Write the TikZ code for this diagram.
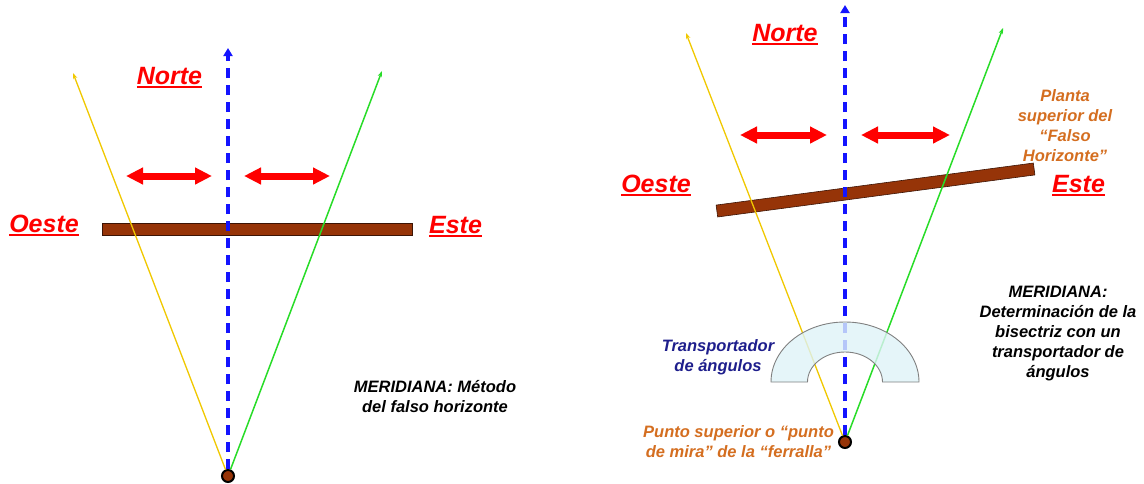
\documentclass[tikz,border=0pt]{standalone}
\usepackage{fontspec}
\setmainfont{Liberation Sans}
\usetikzlibrary{arrows.meta,calc}
\definecolor{barbrown}{RGB}{150,52,8}
\definecolor{baredge}{RGB}{60,20,5}
\definecolor{sightyellow}{RGB}{240,200,0}
\definecolor{sightgreen}{RGB}{40,220,40}
\definecolor{northblue}{RGB}{20,20,255}
\definecolor{navytext}{RGB}{30,30,140}
\definecolor{orangetext}{RGB}{212,110,32}
\definecolor{protfill}{RGB}{222,243,248}
\newcommand{\ulword}[1]{\setbox0\hbox{#1}\rlap{\raisebox{-4pt}{\rule{\wd0}{2pt}}}\box0}
\begin{document}
\begin{tikzpicture}[x=1pt,y=-1pt,
  bigred/.style={text=red, font=\fontsize{25}{30}\selectfont\bfseries\itshape, inner sep=0pt, anchor=base},
  note/.style={font=\fontsize{16.5}{20}\selectfont\bfseries\itshape, align=center, inner sep=0pt},
  yellowsight/.style={draw=sightyellow, line width=1.3pt, -{Stealth[length=6pt,width=4.5pt]}},
  greensight/.style={draw=sightgreen, line width=1.5pt, -{Stealth[length=6pt,width=4.5pt]}},
  northline/.style={draw=northblue, line width=3.4pt, dash pattern=on 10pt off 7pt, -{Triangle[length=8pt,width=9pt]}},
  redarrow/.style={draw=red, line width=7pt, {Triangle[length=17pt,width=16pt]}-{Triangle[length=17pt,width=16pt]}},
  dotnode/.style={circle, minimum size=12pt, inner sep=0pt, fill=barbrown, draw=black, line width=2pt},
  barnode/.style={fill=barbrown, draw=baredge, line width=0.6pt, inner sep=0pt, minimum height=12pt},
  protractor/.style={draw=gray, line width=0.9pt, fill=protfill, fill opacity=0.8}
]
\useasboundingbox (0,0) rectangle (1144,483);

% ---------------- left diagram ----------------
\node[barnode, minimum width=310pt] (barL) at (257,229.5) {};
\node[dotnode] (dotL) at (228,476) {};
\coordinate (ytipL) at (73,73);
\coordinate (gtipL) at (382,71);
\coordinate (ntipL) at (228,48);
\draw[yellowsight] (dotL) -- (ytipL);
\draw[greensight] (dotL) -- (gtipL);
\draw[northline] (dotL) -- (ntipL);

\coordinate (a1s) at (126,176); \coordinate (a1e) at (212,176);
\coordinate (a2s) at (244,176); \coordinate (a2e) at (330,176);
\draw[redarrow] (a1s) -- (a1e);
\draw[redarrow] (a2s) -- (a2e);

\node[bigred] (norteL) at (169.5,84) {\ulword{Norte}};
\node[bigred] (oesteL) at (44,232) {\ulword{Oeste}};
\node[bigred] (esteL) at (455.5,233) {\ulword{Este}};
\node[note] (meridL) at (435,397) {MERIDIANA: Método\\del falso horizonte};

% ---------------- right diagram ----------------
\node[barnode, minimum width=320pt, rotate=7.55] (barR) at (875.5,190) {};
\node[dotnode] (dotR) at (845,442) {};
\coordinate (ytipR) at (686,33);
\coordinate (gtipR) at (1003,28);
\coordinate (ntipR) at (845,5);
\draw[yellowsight] (dotR) -- (ytipR);
\draw[greensight] (dotR) -- (gtipR);
\draw[northline] (dotR) -- (ntipR);

\coordinate (a3s) at (740,135); \coordinate (a3e) at (827,135);
\coordinate (a4s) at (861,135); \coordinate (a4e) at (950,135);
\draw[redarrow] (a3s) -- (a3e);
\draw[redarrow] (a4s) -- (a4e);

\path[protractor] (771,382) arc[start angle=180, end angle=0, x radius=74pt, y radius=60pt]
  -- (882.5,382) arc[start angle=0, end angle=180, x radius=37.5pt, y radius=30pt] -- cycle;

\node[bigred] (norteR) at (785,41) {\ulword{Norte}};
\node[bigred] (oesteR) at (656,192) {\ulword{Oeste}};
\node[bigred] (esteR) at (1078.5,192) {\ulword{Este}};
\node[note, text=orangetext] (planta) at (1065,125.5) {Planta\\superior del\\“Falso\\Horizonte”};
\node[note, text=navytext] (transp) at (718,357) {Transportador\\de ángulos};
\node[note, text=orangetext] (punto) at (738.5,442) {Punto superior o “punto\\de mira” de la “ferralla”};
\node[note] (meridR) at (1058,334) {MERIDIANA:\\Determinación de la\\bisectriz con un\\transportador de\\ángulos};
\end{tikzpicture}
\end{document}
